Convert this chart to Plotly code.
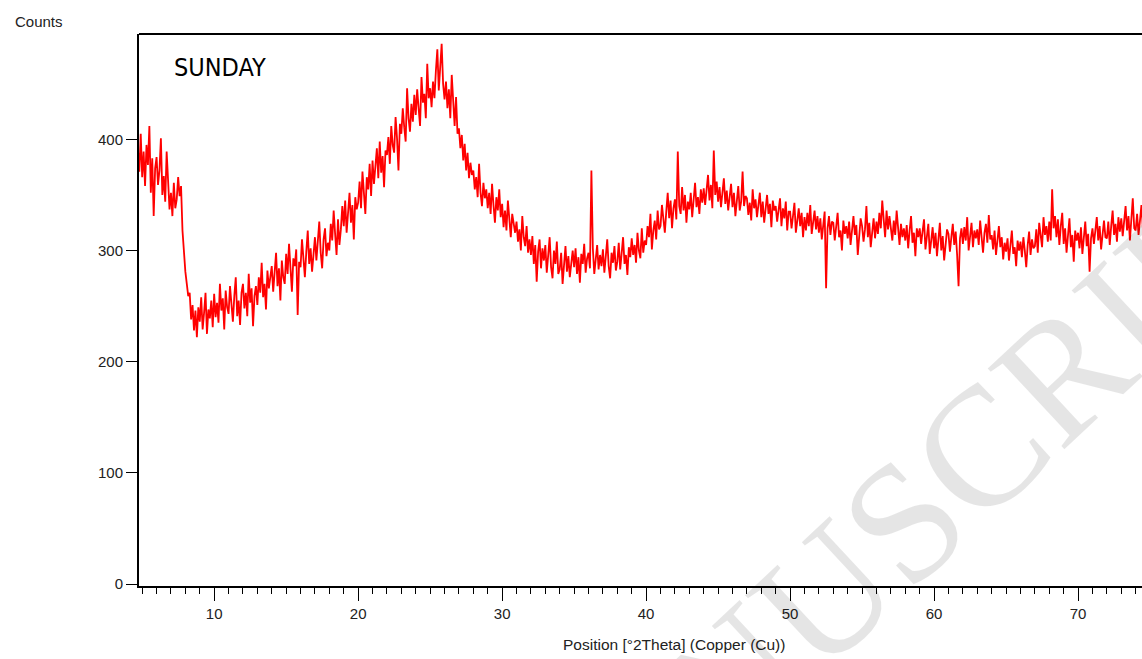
import plotly.graph_objects as go

# XRD scan: start angle and step (deg 2Theta), counts
start_deg = 4.7
step_deg = 0.1
counts = [
    392, 371, 405,
    366, 389, 358, 395, 377, 412, 352, 383, 331, 374,
    384, 359, 372, 401, 350, 367, 344, 389, 356, 337,
    352, 331, 361, 338, 346, 366, 349, 358, 318, 298,
    281, 270, 259, 262, 238, 251, 228, 246, 222, 249,
    236, 258, 229, 244, 262, 225, 247, 239, 255, 231,
    261, 240, 253, 235, 270, 246, 257, 229, 264, 249,
    243, 268, 250, 236, 259, 276, 241, 255, 233, 262,
    270, 248, 262, 241, 279, 253, 266, 232, 259, 268,
    251, 276, 262, 289, 258, 270, 247, 282, 266, 274,
    286, 263, 279, 298, 268, 284, 255, 291, 276, 270,
    297, 279, 306, 282, 263, 293, 286, 301, 242, 290,
    285, 310, 294, 276, 299, 318, 288, 302, 281, 296,
    312, 291, 305, 326, 298, 284, 310, 320, 295, 307,
    300, 324, 309, 336, 315, 296, 328, 305, 319, 340,
    322, 345, 316, 335, 352, 325, 341, 310, 348, 337,
    343, 362, 338, 371, 352, 333, 366, 355, 378, 349,
    381, 360, 376, 392, 365, 398, 370, 385, 357, 390,
    386, 402, 378, 412, 395, 388, 420, 401, 372, 414,
    405, 428, 411, 398, 446, 419, 407, 432, 416, 440,
    422, 445, 428, 412, 456, 433, 441, 419, 468, 437,
    446, 429, 452, 437, 462, 481, 444, 470, 486, 450,
    436, 452, 428, 445, 419, 458, 430, 412, 438, 405,
    410, 392, 404, 381, 396, 372, 388, 365, 379, 368,
    372, 355, 366, 348, 378, 352, 340, 361, 347, 355,
    338, 352, 333, 360, 341, 325, 348, 336, 355, 330,
    342, 321, 336, 318, 345, 327, 312, 333, 322, 316,
    326, 308, 319, 300, 331, 312, 304, 322, 298, 310,
    296, 313, 288, 305, 272, 299, 310, 284, 302, 291,
    305, 280, 296, 312, 285, 275, 300, 288, 308, 279,
    283, 298, 270, 292, 304, 281, 295, 276, 290, 300,
    285, 302, 279, 294, 271, 297, 288, 306, 280, 293,
    298, 284, 372, 302, 279, 290, 305, 283, 296, 286,
    301, 280, 294, 310, 286, 275, 298, 289, 304, 282,
    290, 307, 283, 299, 312, 288, 296, 278, 303, 294,
    311, 296, 305, 289, 316, 300, 293, 320, 298, 309,
    305, 322, 312, 333, 301, 318, 327, 310, 336, 319,
    322, 341, 327, 316, 335, 352, 329, 345, 320, 338,
    346, 328, 389, 340, 333, 357, 336, 350, 325, 344,
    337, 352, 330, 346, 361, 339, 348, 333, 355, 343,
    356, 341, 352, 368, 345, 359, 338, 390, 350, 362,
    344, 357, 339, 351, 365, 342, 354, 336, 348, 360,
    339, 352, 331, 347, 358, 336, 344, 371, 340, 349,
    347, 332, 343, 327, 355, 338, 346, 330, 341, 352,
    330, 344, 325, 339, 350, 333, 342, 321, 345, 336,
    340, 326, 336, 347, 322, 338, 329, 344, 318, 335,
    335, 320, 331, 343, 316, 329, 338, 322, 334, 312,
    330, 318, 334, 322, 341, 315, 327, 336, 319, 331,
    316, 329, 310, 325, 335, 266, 320, 331, 314, 326,
    325, 309, 321, 334, 312, 318, 300, 327, 315, 322,
    311, 326, 305, 320, 331, 314, 323, 296, 318, 329,
    322, 308, 319, 340, 312, 325, 303, 317, 329, 311,
    326, 315, 334, 320, 345, 328, 312, 336, 319, 331,
    322, 309, 327, 314, 336, 318, 305, 324, 312, 320,
    309, 323, 302, 318, 331, 307, 316, 295, 320, 312,
    320, 306, 317, 328, 301, 315, 324, 297, 312, 321,
    302, 316, 295, 311, 325, 300, 313, 291, 308, 319,
    315, 299, 312, 324, 305, 317, 296, 268, 311, 320,
    306, 321, 309, 330, 300, 315, 325, 303, 318, 311,
    319, 305, 327, 312, 298, 316, 324, 307, 332, 310,
    314, 301, 318, 296, 310, 322, 303, 312, 292, 307,
    299, 311, 291, 306, 318, 297, 303, 286, 309, 300,
    308, 294, 312, 300, 285, 305, 317, 296, 310, 302,
    304, 319, 298, 325, 311, 303, 330, 314, 322, 308,
    326, 309, 355, 320, 331, 312, 328, 305, 322, 334,
    306, 320, 298, 317, 329, 303, 314, 290, 318, 309,
    316, 302, 321, 297, 312, 326, 304, 315, 281, 311,
    320, 306, 318, 330, 309, 322, 301, 316, 327, 312,
    311, 326, 305, 322, 336, 314, 324, 308, 330, 317,
    329, 313, 326, 340, 318, 331, 309, 325, 347, 320,
    318, 333, 314, 327, 341, 320, 329, 310, 335, 324,
]
two_theta = [round(start_deg + step_deg * i, 2) for i in range(len(counts))]

x_tick_vals = [10, 20, 30, 40, 50, 60, 70]
y_tick_vals = [0, 100, 200, 300, 400]

sample_label = "SUNDAY"
x_title = "Position [°2Theta] (Copper (Cu))"
y_title = "Counts"
watermark = "MANUSCRIPT"

# page body margin is removed by the post_script, so the figure fills the window
W, H = 1142, 659
ML, MT, MR = 139, 34, 0
MB = H - 586
PW, PH = W - ML - MR, H - MT - MB


def px(xpix):
    return (xpix - ML) / PW


def py(ypix):
    return (MT + PH - ypix) / PH


font_small = dict(family="Liberation Sans, Arial, sans-serif", size=15, color="#222222")

fig = go.Figure()
fig.add_trace(go.Scatter(x=two_theta, y=counts, mode="lines",
                         line=dict(color="#ff0000", width=1.8),
                         hoverinfo="skip", showlegend=False))

fig.update_layout(
    width=W, height=H,
    margin=dict(l=ML, r=MR, t=MT, b=MB, pad=0),
    paper_bgcolor="white", plot_bgcolor="white",
    showlegend=False,
    xaxis=dict(range=[4.78, 74.44], showgrid=False, zeroline=False,
               showline=True, linecolor="black", linewidth=2,
               ticks="outside", ticklen=13, tickwidth=1.3, tickcolor="black",
               tickvals=x_tick_vals, tickfont=font_small,
               minor=dict(dtick=1, tick0=0, ticks="outside", ticklen=6,
                          tickwidth=1.3, tickcolor="black", showgrid=False)),
    yaxis=dict(range=[-1.8, 494.8], showgrid=False, zeroline=False,
               showline=True, linecolor="black", linewidth=2,
               ticks="outside", ticklen=11, tickwidth=1.3, tickcolor="black",
               tickvals=y_tick_vals, tickfont=font_small),
    shapes=[dict(type="line", xref="paper", yref="paper", x0=0, x1=1, y0=1, y1=1,
                 line=dict(color="black", width=2))],
    annotations=[
        dict(text=watermark, xref="paper", yref="paper", x=px(890), y=py(534),
             xanchor="center", yanchor="middle", textangle=-43, showarrow=False,
             font=dict(family="Liberation Serif, Times New Roman, serif", size=170,
                       color="rgba(0,0,0,0.10)")),
        dict(text=y_title, xref="paper", yref="paper", x=px(13), y=py(22),
             xanchor="left", yanchor="middle", showarrow=False, font=font_small),
        dict(text=x_title, xref="paper", yref="paper", x=px(674), y=py(644),
             xanchor="center", yanchor="middle", showarrow=False,
             font=dict(family="Liberation Sans, Arial, sans-serif", size=15.5, color="#222222")),
        dict(text=sample_label, xref="paper", yref="paper", x=px(172), y=py(67),
             xanchor="left", yanchor="middle", showarrow=False,
             font=dict(family="Liberation Sans Narrow, DejaVu Sans Condensed, Liberation Sans, sans-serif",
                       size=25, color="black")),
    ],
)

fig.write_html(
    "out.html",
    config={"displayModeBar": False},
    post_script="document.body.style.margin='0px';document.body.style.overflow='hidden';",
)
